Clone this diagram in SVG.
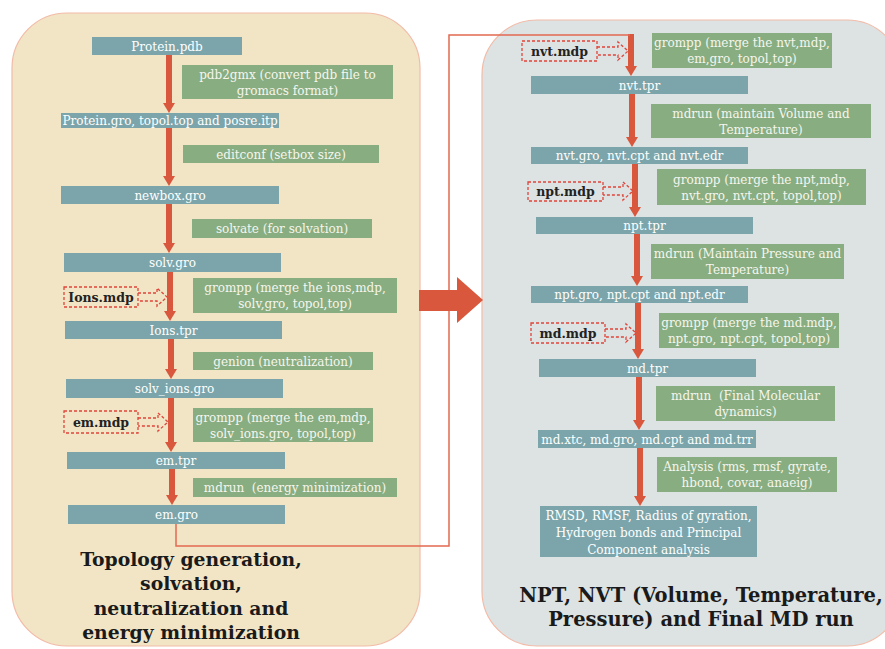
<svg xmlns="http://www.w3.org/2000/svg" width="885" height="649" viewBox="0 0 885 649">
<defs>
<marker id="ah" markerUnits="userSpaceOnUse" markerWidth="12" markerHeight="12" refX="2" refY="6" orient="auto" viewBox="0 0 12 12">
<path d="M0,0 L10,6 L0,12 Z" fill="#d9573c"/>
</marker>
<style>
.node{fill:#7ba5ab}
.green{fill:#88ad80}
.nt{font-family:"DejaVu Serif","Liberation Serif",serif;font-size:12px;fill:#ffffff;text-anchor:middle}
.gt{font-family:"DejaVu Serif","Liberation Serif",serif;font-size:12px;fill:#f6f6ef;text-anchor:middle;white-space:pre}
.mdp{fill:none;stroke:#e0443a;stroke-width:1.3;stroke-dasharray:3 2}
.mt{font-family:"DejaVu Serif","Liberation Serif",serif;font-size:12.5px;font-weight:bold;fill:#222;text-anchor:middle}
.flow{stroke:#d9573c;stroke-width:6;fill:none;marker-end:url(#ah)}
.title{font-family:"DejaVu Serif","Liberation Serif",serif;font-size:19.5px;font-weight:bold;fill:#1a1a1a;text-anchor:middle}
.tl{font-size:18.8px}
</style>
</defs>
<rect width="885" height="649" fill="#ffffff"/>
<!-- panels -->
<rect id="panel-left" x="12" y="13" width="408" height="633" rx="55" fill="#f1e5c6" stroke="#f2bba8" stroke-width="1.2"/>
<rect id="panel-right" x="482" y="20" width="420" height="626" rx="55" fill="#dde3e3" stroke="#f2bba8" stroke-width="1.2"/>

<!-- connectors -->
<g id="connectors">
<line class="flow" x1="169" y1="55" x2="169" y2="105"/>
<line class="flow" x1="169" y1="128" x2="169" y2="178"/>
<line class="flow" x1="169" y1="204" x2="169" y2="245"/>
<line class="flow" x1="170" y1="272" x2="170" y2="313"/>
<line class="flow" x1="171" y1="339" x2="171" y2="371"/>
<line class="flow" x1="171" y1="398" x2="171" y2="444"/>
<line class="flow" x1="172" y1="469" x2="172" y2="497"/>

<line class="flow" x1="631" y1="34" x2="631" y2="68"/>
<line class="flow" x1="632" y1="94" x2="632" y2="139"/>
<line class="flow" x1="635" y1="164" x2="635" y2="209"/>
<line class="flow" x1="637" y1="234" x2="637" y2="278"/>
<line class="flow" x1="638" y1="303" x2="638" y2="351"/>
<line class="flow" x1="639" y1="377" x2="639" y2="422"/>
<line class="flow" x1="640" y1="448" x2="640" y2="498"/>

<polyline points="176,524 176,546 449,546 449,35 630,35" fill="none" stroke="#e46a52" stroke-width="1.5"/>

<path d="M419,290 H457 V277 L483,300 L457,323 V311 H419 Z" fill="#d9573c"/>

<path class="mdp" d="M138,293 H157 V288 L167,297 L157,306 V301 H138"/>
<path class="mdp" d="M138,418 H158 V413 L168,422 L158,431 V426 H138"/>
<path class="mdp" d="M597,47 H618 V42 L628,51 L618,60 V55 H597"/>
<path class="mdp" d="M603,187 H623 V182 L633,191 L623,200 V195 H603"/>
<path class="mdp" d="M605,329 H626 V324 L636,333 L626,342 V337 H605"/>
</g>

<!-- left nodes -->
<g id="n-protein-pdb"><rect class="node" x="92" y="37" width="150" height="18"/><text class="nt" x="167" y="51">Protein.pdb</text></g>
<g id="g-pdb2gmx"><rect class="green" x="182" y="65" width="211" height="34"/><text class="gt" x="287.5" y="79">pdb2gmx (convert pdb file to</text><text class="gt" x="287.5" y="95">gromacs format)</text></g>
<g id="n-protein-gro"><rect class="node" x="61" y="113" width="218" height="15"/><text class="nt" x="170" y="125">Protein.gro, topol.top and posre.itp</text></g>
<g id="g-editconf"><rect class="green" x="183" y="145" width="196" height="18"/><text class="gt" x="281" y="159">editconf (setbox size)</text></g>
<g id="n-newbox"><rect class="node" x="61" y="186" width="218" height="18"/><text class="nt" x="170" y="200">newbox.gro</text></g>
<g id="g-solvate"><rect class="green" x="192" y="219" width="180" height="19"/><text class="gt" x="282" y="233">solvate (for solvation)</text></g>
<g id="n-solv"><rect class="node" x="64" y="253" width="217" height="19"/><text class="nt" x="172.5" y="267">solv.gro</text></g>
<g id="g-grompp-ions"><rect class="green" x="193" y="278" width="204" height="35"/><text class="gt" x="295" y="292">grompp (merge the ions,mdp,</text><text class="gt" x="295" y="308">solv,gro, topol,top)</text></g>
<g id="m-ions"><rect class="mdp" x="64" y="287" width="74" height="20"/><text class="mt" x="101" y="302">Ions.mdp</text></g>
<g id="n-ions-tpr"><rect class="node" x="65" y="321" width="217" height="18"/><text class="nt" x="173.5" y="335">Ions.tpr</text></g>
<g id="g-genion"><rect class="green" x="193" y="352" width="180" height="18"/><text class="gt" x="283" y="366">genion (neutralization)</text></g>
<g id="n-solv-ions"><rect class="node" x="66" y="379" width="217" height="19"/><text class="nt" x="174.5" y="393">solv_ions.gro</text></g>
<g id="g-grompp-em"><rect class="green" x="193" y="408" width="180" height="34"/><text class="gt" x="283" y="422">grompp (merge the em,mdp,</text><text class="gt" x="283" y="438">solv_ions.gro, topol,top)</text></g>
<g id="m-em"><rect class="mdp" x="64" y="411" width="74" height="22"/><text class="mt" x="101" y="427">em.mdp</text></g>
<g id="n-em-tpr"><rect class="node" x="67" y="452" width="218" height="17"/><text class="nt" x="176" y="465">em.tpr</text></g>
<g id="g-mdrun-em"><rect class="green" x="193" y="478" width="204" height="19"/><text class="gt" x="295" y="492">mdrun  (energy minimization)</text></g>
<g id="n-em-gro"><rect class="node" x="68" y="505" width="217" height="19"/><text class="nt" x="176.5" y="519">em.gro</text></g>

<g id="title-left">
<text class="title tl" x="191" y="566">Topology generation,</text>
<text class="title tl" x="191" y="590">solvation,</text>
<text class="title tl" x="191" y="615">neutralization and</text>
<text class="title tl" x="191" y="639">energy minimization</text>
</g>

<!-- right nodes -->
<g id="m-nvt"><rect class="mdp" x="522" y="41" width="75" height="20"/><text class="mt" x="559.5" y="56">nvt.mdp</text></g>
<g id="g-grompp-nvt"><rect class="green" x="652" y="33" width="180" height="35"/><text class="gt" x="742" y="47">grompp (merge the nvt,mdp,</text><text class="gt" x="742" y="63">em,gro, topol,top)</text></g>
<g id="n-nvt-tpr"><rect class="node" x="531" y="76" width="217" height="18"/><text class="nt" x="639.5" y="90">nvt.tpr</text></g>
<g id="g-mdrun-nvt"><rect class="green" x="651" y="104" width="220" height="34"/><text class="gt" x="761" y="118">mdrun (maintain Volume and</text><text class="gt" x="761" y="134">Temperature)</text></g>
<g id="n-nvt-gro"><rect class="node" x="531" y="147" width="217" height="17"/><text class="nt" x="639.5" y="160">nvt.gro, nvt.cpt and nvt.edr</text></g>
<g id="m-npt"><rect class="mdp" x="528" y="182" width="75" height="19"/><text class="mt" x="565.5" y="196">npt.mdp</text></g>
<g id="g-grompp-npt"><rect class="green" x="657" y="169" width="209" height="36"/><text class="gt" x="761.5" y="184">grompp (merge the npt,mdp,</text><text class="gt" x="761.5" y="200">nvt.gro, nvt.cpt, topol,top)</text></g>
<g id="n-npt-tpr"><rect class="node" x="536" y="217" width="217" height="17"/><text class="nt" x="644.5" y="230">npt.tpr</text></g>
<g id="g-mdrun-npt"><rect class="green" x="651" y="244" width="193" height="35"/><text class="gt" x="747.5" y="258">mdrun (Maintain Pressure and</text><text class="gt" x="747.5" y="274">Temperature)</text></g>
<g id="n-npt-gro"><rect class="node" x="531" y="286" width="217" height="17"/><text class="nt" x="639.5" y="299">npt.gro, npt.cpt and npt.edr</text></g>
<g id="m-md"><rect class="mdp" x="531" y="323" width="74" height="20"/><text class="mt" x="568" y="338">md.mdp</text></g>
<g id="g-grompp-md"><rect class="green" x="659" y="313" width="180" height="35"/><text class="gt" x="749" y="327">grompp (merge the md.mdp,</text><text class="gt" x="749" y="343">npt.gro, npt.cpt, topol,top)</text></g>
<g id="n-md-tpr"><rect class="node" x="539" y="359" width="217" height="18"/><text class="nt" x="647.5" y="373">md.tpr</text></g>
<g id="g-mdrun-md"><rect class="green" x="656" y="386" width="179" height="35"/><text class="gt" x="745.5" y="400">mdrun  (Final Molecular</text><text class="gt" x="745.5" y="416">dynamics)</text></g>
<g id="n-md-xtc"><rect class="node" x="538" y="430" width="218" height="18"/><text class="nt" x="647" y="444">md.xtc, md.gro, md.cpt and md.trr</text></g>
<g id="g-analysis"><rect class="green" x="657" y="457" width="180" height="35"/><text class="gt" x="747" y="471">Analysis (rms, rmsf, gyrate,</text><text class="gt" x="747" y="487">hbond, covar, anaeig)</text></g>
<g id="n-rmsd"><rect class="node" x="540" y="506" width="217" height="51"/><text class="nt" x="648.5" y="520">RMSD, RMSF, Radius of gyration,</text><text class="nt" x="648.5" y="537">Hydrogen bonds and Principal</text><text class="nt" x="648.5" y="554">Component analysis</text></g>

<g id="title-right">
<text class="title" x="701" y="602">NPT, NVT (Volume, Temperature,</text>
<text class="title" x="701" y="626">Pressure) and Final MD run</text>
</g>
</svg>
